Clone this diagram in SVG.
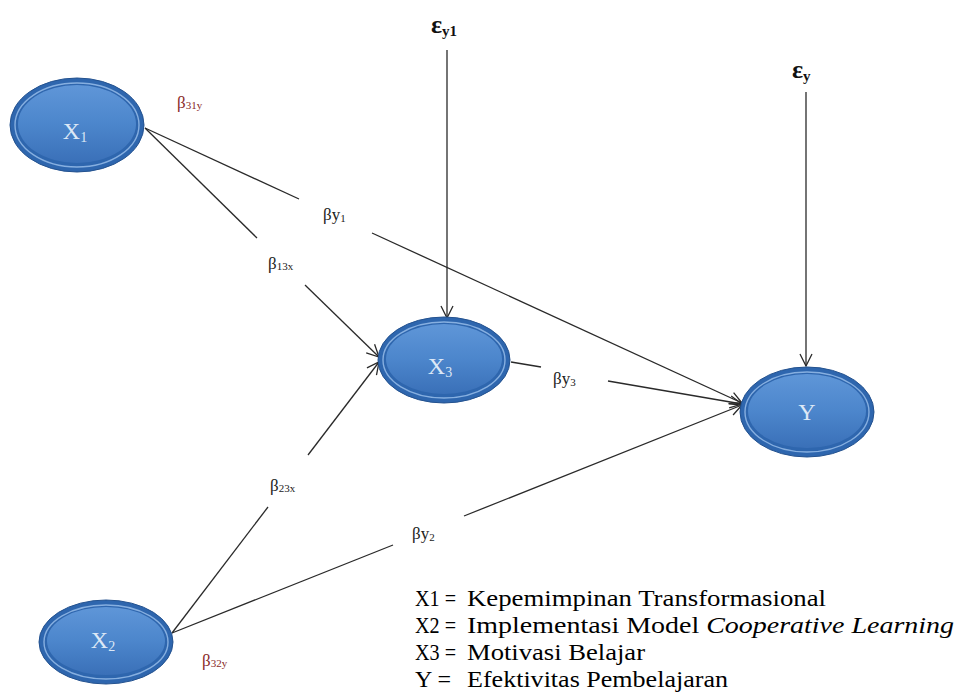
<svg xmlns="http://www.w3.org/2000/svg" width="957" height="698" viewBox="0 0 957 698">
<style>
.ln{stroke:#2a2a2a;stroke-width:1.3;fill:none}
.ar{marker-end:url(#arr)}
.outer{fill:#2E66AE;stroke:#24528F;stroke-width:1}
.ring{fill:none;stroke:#86AFE0;stroke-width:1.4}
.inner{fill:url(#g)}
.nl{font-family:"Liberation Serif","DejaVu Serif",serif;font-size:24px;fill:#DCE8F6;text-anchor:middle}
.b{font-family:"Liberation Serif","DejaVu Serif",serif;font-size:17px;fill:#222}
.br{font-family:"Liberation Serif","DejaVu Serif",serif;font-size:17px;fill:#8A2A2A}
.s{font-size:11px}
.e{font-family:"Liberation Serif","DejaVu Serif",serif;font-weight:bold;fill:#111}
.lg{font-family:"Liberation Serif","DejaVu Serif",serif;font-size:24px;fill:#000}
</style>
<defs>
<linearGradient id="g" x1="0" y1="0" x2="0" y2="1">
<stop offset="0" stop-color="#5F96D8"/>
<stop offset="0.5" stop-color="#4C86CC"/>
<stop offset="1" stop-color="#3A70B8"/>
</linearGradient>
<marker id="arr" viewBox="0 0 14 14" refX="13" refY="7" markerWidth="14" markerHeight="14" markerUnits="userSpaceOnUse" orient="auto">
<path d="M1,1 L13,7 L1,13" fill="none" stroke="#2a2a2a" stroke-width="1.3"/>
</marker>
</defs>
<rect width="957" height="698" fill="#fff"/>

<g id="connectors">
<line class="ln" x1="145" y1="128" x2="257" y2="238"/>
<line class="ln ar" x1="305" y1="285" x2="379" y2="357"/>
<line class="ln" x1="145" y1="128" x2="299" y2="199"/>
<line class="ln ar" x1="372" y1="233" x2="742" y2="403"/>
<line class="ln" x1="511" y1="362" x2="541" y2="367"/>
<line class="ln ar" x1="608" y1="381" x2="742" y2="404"/>
<line class="ln" x1="172" y1="633" x2="268" y2="507"/>
<line class="ln ar" x1="308" y1="455" x2="379" y2="362"/>
<line class="ln" x1="172" y1="633" x2="393" y2="545"/>
<line class="ln ar" x1="464" y1="516" x2="742" y2="405"/>
<line class="ln ar" x1="447" y1="50" x2="447" y2="318"/>
<line class="ln ar" x1="806" y1="92" x2="806" y2="366"/>
</g>

<g id="X1">
<ellipse class="outer" cx="77" cy="125" rx="67" ry="47"/>
<ellipse class="ring" cx="77" cy="125" rx="62" ry="42"/>
<ellipse class="inner" cx="77" cy="124" rx="59" ry="39"/>
<text class="nl" x="75" y="139">X<tspan font-size="14" dy="3">1</tspan></text>
</g>
<g id="X2">
<ellipse class="outer" cx="106" cy="642" rx="67" ry="42"/>
<ellipse class="ring" cx="106" cy="642" rx="62" ry="37"/>
<ellipse class="inner" cx="106" cy="641" rx="59" ry="34"/>
<text class="nl" x="103" y="648">X<tspan font-size="14" dy="3">2</tspan></text>
</g>
<g id="X3">
<ellipse class="outer" cx="444" cy="360" rx="66" ry="43"/>
<ellipse class="ring" cx="444" cy="360" rx="61" ry="38"/>
<ellipse class="inner" cx="444" cy="359" rx="58" ry="35"/>
<text class="nl" x="440" y="374">X<tspan font-size="14" dy="3">3</tspan></text>
</g>
<g id="Y">
<ellipse class="outer" cx="807" cy="412" rx="67" ry="45"/>
<ellipse class="ring" cx="807" cy="412" rx="62" ry="40"/>
<ellipse class="inner" cx="807" cy="411" rx="59" ry="37"/>
<text class="nl" x="807" y="420">Y</text>
</g>

<g id="labels">
<text class="e" x="431" y="33" font-size="26">ε<tspan font-size="15" dy="3">y1</tspan></text>
<text class="e" x="792" y="78" font-size="26">ε<tspan font-size="15" dy="3">y</tspan></text>
<text class="br" x="177" y="108">β<tspan class="s" dy="1">31y</tspan></text>
<text class="br" x="202" y="666">β<tspan class="s" dy="1">32y</tspan></text>
<text class="b" x="323" y="220">βy<tspan class="s" dy="2">1</tspan></text>
<text class="b" x="268" y="269">β<tspan class="s" dy="1">13x</tspan></text>
<text class="b" x="270" y="491">β<tspan class="s" dy="1">23x</tspan></text>
<text class="b" x="412" y="539">βy<tspan class="s" dy="2">2</tspan></text>
<text class="b" x="553" y="384">βy<tspan class="s" dy="2">3</tspan></text>
</g>

<g id="legend">
<text class="lg" x="415" y="606" textLength="41" lengthAdjust="spacingAndGlyphs">X1 =</text><text class="lg" x="467" y="606" textLength="359" lengthAdjust="spacingAndGlyphs">Kepemimpinan Transformasional</text>
<text class="lg" x="415" y="633" textLength="41" lengthAdjust="spacingAndGlyphs">X2 =</text><text class="lg" x="467" y="633" textLength="487" lengthAdjust="spacingAndGlyphs">Implementasi Model <tspan font-style="italic">Cooperative Learning</tspan></text>
<text class="lg" x="415" y="660" textLength="41" lengthAdjust="spacingAndGlyphs">X3 =</text><text class="lg" x="467" y="660" textLength="178" lengthAdjust="spacingAndGlyphs">Motivasi Belajar</text>
<text class="lg" x="415" y="687">Y =</text><text class="lg" x="467" y="687" textLength="261" lengthAdjust="spacingAndGlyphs">Efektivitas Pembelajaran</text>
</g>
</svg>
